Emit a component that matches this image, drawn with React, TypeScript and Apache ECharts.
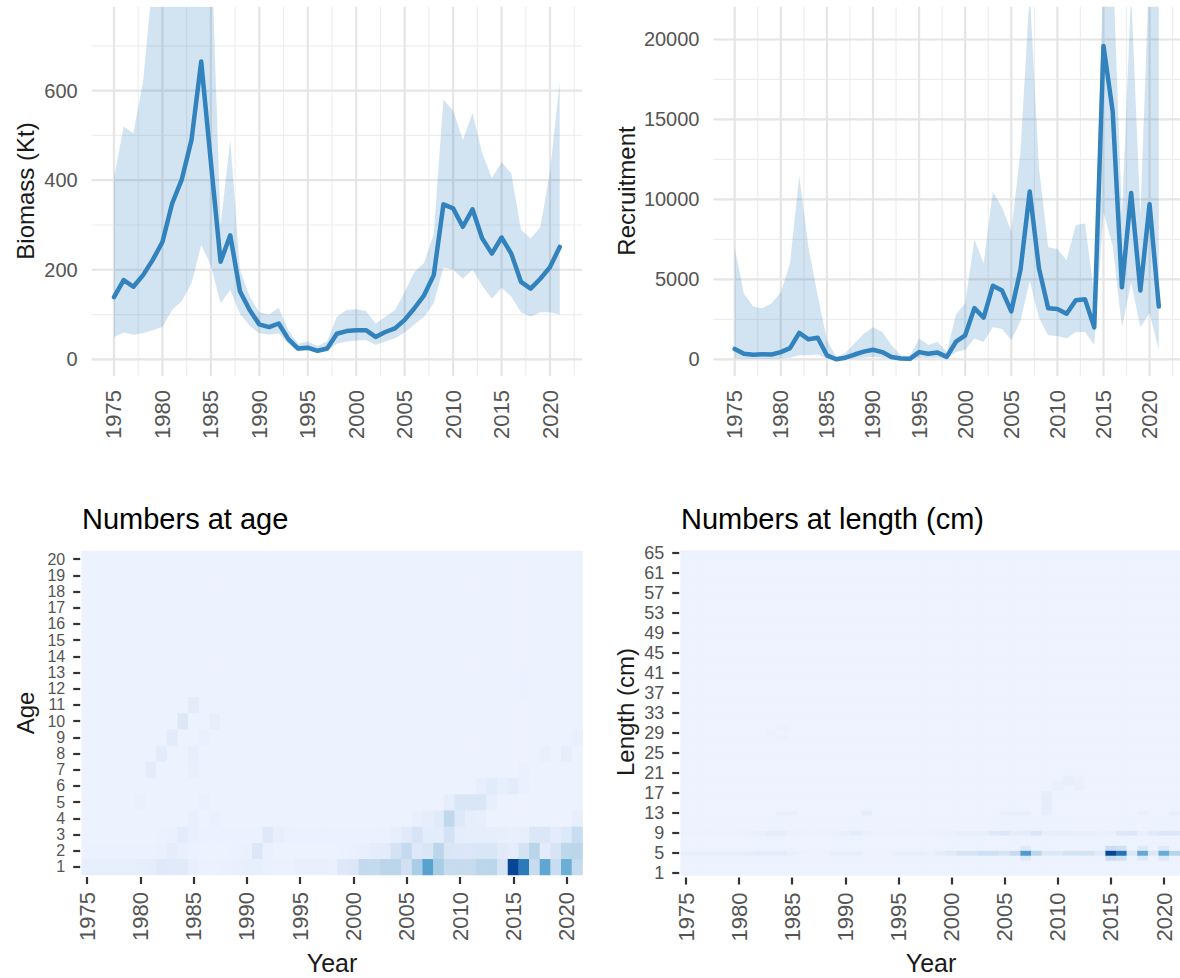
import React, { useEffect, useRef } from 'react';
import * as echarts from 'echarts';

// ---------- data ----------
const years = [1975, 1976, 1977, 1978, 1979, 1980, 1981, 1982, 1983, 1984, 1985, 1986, 1987, 1988, 1989, 1990, 1991, 1992, 1993, 1994, 1995, 1996, 1997, 1998, 1999, 2000, 2001, 2002, 2003, 2004, 2005, 2006, 2007, 2008, 2009, 2010, 2011, 2012, 2013, 2014, 2015, 2016, 2017, 2018, 2019, 2020, 2021];
const yearTickLabels = [1975, 1980, 1985, 1990, 1995, 2000, 2005, 2010, 2015, 2020];
const yearMinorGrid = [1977.5, 1982.5, 1987.5, 1992.5, 1997.5, 2002.5, 2007.5, 2012.5, 2017.5, 2022.5];
const biomassTicks = [0, 200, 400, 600];
const biomassMinor = [100, 300, 500, 700];
const recruitTicks = [0, 5000, 10000, 15000, 20000];
const recruitMinor = [2500, 7500, 12500, 17500];

const biomass = [139, 177, 162, 188, 222, 262, 348, 402, 490, 665, 440, 218, 277, 152, 110, 78, 72, 80, 45, 24, 26, 19, 24, 57, 63, 65, 65, 50, 61, 69, 88, 114, 143, 188, 346, 337, 296, 335, 270, 236, 272, 236, 173, 158, 180, 206, 251];
const biomassLow = [50, 60, 55, 58, 65, 72, 110, 130, 170, 255, 210, 125, 155, 102, 75, 58, 55, 58, 35, 18, 20, 14, 18, 35, 40, 42, 43, 32, 40, 47, 60, 78, 95, 125, 205, 200, 180, 200, 165, 135, 160, 140, 105, 95, 105, 105, 100];
const biomassHigh = [405, 520, 505, 620, 850, 950, 950, 950, 950, 950, 950, 300, 490, 200, 140, 105, 100, 115, 65, 35, 40, 30, 40, 95, 110, 112, 108, 80, 95, 110, 150, 195, 215, 280, 580, 555, 490, 550, 460, 405, 440, 415, 290, 270, 295, 420, 620];

const recruitment = [650, 350, 280, 320, 300, 450, 700, 1650, 1250, 1350, 250, 0, 100, 300, 480, 600, 450, 150, 50, 30, 450, 350, 420, 150, 1100, 1500, 3200, 2600, 4600, 4300, 3000, 5600, 10500, 5700, 3200, 3150, 2850, 3700, 3750, 2000, 19600, 15500, 4500, 10400, 4300, 9700, 3300];
const recruitLow = [50, 30, 20, 30, 20, 50, 100, 250, 250, 300, 30, 0, 10, 50, 100, 150, 100, 20, 5, 5, 100, 80, 100, 30, 450, 600, 1300, 1100, 2000, 1900, 1200, 2400, 4900, 2600, 1500, 1450, 1300, 1700, 1700, 900, 9200, 7100, 2000, 4800, 2000, 2900, 600];
const recruitHigh = [7000, 4100, 3300, 3200, 3500, 4200, 6000, 11500, 7000, 4000, 1200, 150, 400, 1000, 1600, 2000, 1700, 900, 250, 200, 1300, 900, 1100, 450, 2800, 3500, 7500, 6000, 10500, 9500, 8000, 13000, 23000, 12000, 7000, 6900, 6200, 8400, 8500, 4000, 25000, 25000, 9000, 23000, 9000, 25000, 25000];

// Numbers at age (relative units)
const ages = [1, 2, 3, 4, 5, 6, 7, 8, 9, 10, 11, 12, 13, 14, 15, 16, 17, 18, 19, 20];
const naAgeBackground = 2;
const naAge1 = [6, 6, 6, 6, 6, 7, 8, 13, 12, 12, 5, 3, 3, 4, 5, 6, 6, 4, 3, 3, 5, 5, 5, 4, 14, 16, 35, 34, 42, 42, 24, 57, 112, 58, 32, 32, 32, 42, 42, 20, 196, 153, 31, 107, 30, 98, 33];
const naAge2 = [3, 3, 3, 3, 3, 3, 3, 4, 8, 5, 3, 2, 2, 2, 3, 4, 16, 4, 2, 2, 2, 2, 2, 2, 3, 4, 5, 8, 10, 22, 34, 14, 18, 42, 18, 16, 16, 18, 18, 12, 8, 22, 44, 9, 20, 40, 42];
const naAge3 = [2, 2, 2, 2, 2, 2, 2, 3, 4, 10, 5, 3, 3, 3, 3, 3, 3, 14, 6, 3, 3, 3, 3, 3, 3, 3, 3, 3, 3, 6, 12, 20, 10, 10, 22, 8, 7, 7, 7, 6, 5, 6, 16, 16, 9, 14, 30];
// [year, age, value] for older ages
const naAgeCells = [
  [1985, 4, 5], [1987, 4, 4], [2006, 4, 5], [2007, 4, 7], [2008, 4, 12], [2009, 4, 38], [2010, 4, 14], [2011, 4, 7], [2012, 4, 6], [2021, 4, 6],
  [1980, 5, 4], [1986, 5, 4], [2009, 5, 7], [2010, 5, 18], [2011, 5, 18], [2012, 5, 18], [2013, 5, 6],
  [2012, 6, 6], [2013, 6, 11], [2014, 6, 6], [2015, 6, 10], [2016, 6, 4],
  [1981, 7, 9], [1985, 7, 5], [2016, 7, 4],
  [1982, 8, 10], [1985, 8, 6], [2018, 8, 5], [2020, 8, 7],
  [1983, 9, 11], [1986, 9, 4], [2021, 9, 5],
  [1984, 10, 15], [1987, 10, 6],
  [1985, 11, 9],
  [2016, 12, 3], [2016, 13, 3],
];

// Numbers at length (relative units)
const lengths = [1, 2, 3, 4, 5, 6, 7, 8, 9, 10, 11, 12, 13, 14, 15, 16, 17, 18, 19, 20, 21, 22, 23, 24, 25, 26, 27, 28, 29, 30, 31, 32, 33, 34, 35, 36, 37, 38, 39, 40, 41, 42, 43, 44, 45, 46, 47, 48, 49, 50, 51, 52, 53, 54, 55, 56, 57, 58, 59, 60, 61, 62, 63, 64, 65];
const nlBackground = 2;
const nlLen5 = [6, 6, 6, 6, 6, 6, 7, 10, 10, 10, 5, 3, 3, 3, 6, 6, 6, 3, 3, 3, 6, 6, 6, 4, 10, 12, 20, 20, 26, 26, 20, 32, 120, 42, 15, 15, 22, 22, 22, 12, 196, 160, 17, 105, 16, 100, 45];
const nlLen9 = [3, 3, 3, 3, 3, 3, 4, 5, 8, 8, 4, 3, 3, 3, 4, 6, 10, 5, 3, 3, 3, 3, 3, 3, 4, 4, 6, 6, 6, 14, 16, 8, 10, 18, 7, 7, 7, 6, 6, 4, 5, 14, 16, 6, 12, 16, 16];
const nlCells = [
  [2007, 4, 14], [2007, 6, 14], [2015, 4, 30], [2015, 6, 30], [2016, 4, 25], [2016, 6, 25], [2018, 4, 14], [2018, 6, 14], [2020, 4, 14], [2020, 6, 14],
  [1984, 13, 6], [1985, 13, 5], [1992, 13, 8], [2005, 13, 5], [2006, 13, 6], [2007, 13, 6], [2018, 13, 5], [2021, 13, 6],
  [2009, 13, 6], [2009, 14, 8], [2009, 15, 8], [2009, 16, 8], [2009, 17, 7],
  [2010, 18, 5], [2010, 19, 5], [2011, 19, 6], [2011, 20, 6], [2012, 18, 5], [2012, 19, 5], [2012, 20, 4],
  [1983, 29, 4], [1984, 28, 4], [1984, 30, 4],
];

const blues = ['#EFF3FF', '#C6DBEF', '#9ECAE1', '#6BAED6', '#4292C6', '#2171B5', '#084594'];
const FONT = '"Liberation Sans", Arial, Helvetica, sans-serif';
const LABEL = '#555555';
const TITLE = '#1a1a1a';

function buildAgeCells() {
  const m = years.map((_, xi) => ages.map((a) => {
    if (a === 1) return naAge1[xi];
    if (a === 2) return naAge2[xi];
    if (a === 3) return naAge3[xi];
    return naAgeBackground;
  }));
  naAgeCells.forEach(([y, a, v]) => { m[years.indexOf(y)][a - 1] = v; });
  const out: number[][] = [];
  m.forEach((col, xi) => col.forEach((v, yi) => out.push([xi, yi, v])));
  return out;
}

function buildLenCells() {
  const m = years.map((_, xi) => lengths.map((l) => {
    if (l === 5) return nlLen5[xi];
    if (l === 9) return nlLen9[xi];
    return nlBackground;
  }));
  nlCells.forEach(([y, l, v]) => { m[years.indexOf(y)][l - 1] = v; });
  const out: number[][] = [];
  m.forEach((col, xi) => col.forEach((v, yi) => out.push([xi, yi, v])));
  return out;
}

function gridData(xMajor: number[], xMinor: number[], yMajor: number[], yMinor: number[]) {
  const d: number[][] = [];
  xMinor.forEach((v) => d.push([v, 0, 0, 0]));
  yMinor.forEach((v) => d.push([1975, v, 1, 0]));
  xMajor.forEach((v) => d.push([v, 0, 0, 1]));
  yMajor.forEach((v) => d.push([1975, v, 1, 1]));
  return d;
}

function gridSeries(idx: number, data: number[][]) {
  return {
    type: 'custom',
    xAxisIndex: idx,
    yAxisIndex: idx,
    z: 0,
    silent: true,
    encode: { x: 0, y: 1 },
    data,
    renderItem: (params: any, api: any) => {
      const cs = params.coordSys;
      const dir = api.value(2);
      const major = api.value(3);
      const p = api.coord([api.value(0), api.value(1)]);
      const style = { stroke: major ? '#E5E5E5' : '#EEEEEE', lineWidth: major ? 2.2 : 1.2 };
      if (dir === 0) {
        return { type: 'line', shape: { x1: p[0], y1: cs.y, x2: p[0], y2: cs.y + cs.height }, style };
      }
      return { type: 'line', shape: { x1: cs.x, y1: p[1], x2: cs.x + cs.width, y2: p[1] }, style };
    },
  };
}

function ribbonSeries(idx: number, low: number[], high: number[]) {
  return {
    type: 'custom',
    xAxisIndex: idx,
    yAxisIndex: idx,
    z: 1,
    silent: true,
    clip: true,
    encode: { x: 0, y: [1, 2] },
    data: years.map((y, i) => [y, low[i], high[i]]),
    renderItem: (params: any, api: any) => {
      if (params.dataIndex !== 0) return null;
      const cs = params.coordSys;
      const top = years.map((y, i) => api.coord([y, high[i]]));
      const bottom = years.map((y, i) => api.coord([y, low[i]])).reverse();
      return {
        type: 'polygon',
        shape: { points: top.concat(bottom) },
        style: { fill: 'rgba(49,130,189,0.22)' },
        clipPath: { type: 'rect', shape: { x: cs.x, y: cs.y, width: cs.width, height: cs.height } },
      };
    },
  };
}

function mainLine(idx: number, vals: number[]) {
  return {
    type: 'line', xAxisIndex: idx, yAxisIndex: idx, z: 3,
    data: years.map((y, i) => [y, vals[i]]), showSymbol: false, symbol: 'none', silent: true,
    lineStyle: { width: 4.5, color: '#3182BD', join: 'round', cap: 'round' },
  };
}

function valueXAxis(gridIndex: number) {
  return {
    type: 'value', gridIndex, min: 1972.7, max: 2023.3,
    axisLine: { show: false }, axisTick: { show: false }, splitLine: { show: false },
    axisLabel: { customValues: yearTickLabels, rotate: 90, margin: 14, fontSize: 22, color: LABEL, fontFamily: FONT, formatter: (v: number) => String(v) },
  };
}

function catXAxis(gridIndex: number) {
  const every5 = (_i: number, v: string) => Number(v) % 5 === 0;
  return {
    type: 'category', gridIndex, data: years.map(String), offset: 2,
    axisLine: { show: false },
    axisTick: { show: true, interval: every5, alignWithLabel: true, length: 7, lineStyle: { color: '#333333', width: 2.2 } },
    axisLabel: { interval: every5, rotate: 90, margin: 15, fontSize: 22, color: LABEL, fontFamily: FONT },
    splitLine: { show: false },
  };
}

function textEl(text: string, x: number, y: number, size: number, opts: any = {}) {
  const align = opts.align || 'center';
  return {
    type: 'text', x, y, rotation: opts.rotate ? Math.PI / 2 : 0, silent: true,
    style: {
      text, fontSize: size, fontFamily: FONT, fill: opts.fill || TITLE,
      textAlign: align, textVerticalAlign: 'middle', align, verticalAlign: 'middle',
    },
  };
}

function buildOption() {
  const ageSeriesIndex = 6;
  const lenSeriesIndex = 7;
  return {
    animation: false,
    backgroundColor: '#ffffff',
    textStyle: { fontFamily: FONT },
    grid: [
      { left: 91.7, top: 6.7, width: 490.3, height: 369.4 },
      { left: 713.5, top: 6.7, width: 469.3, height: 369.4 },
      { left: 81.7, top: 551, width: 500.9, height: 324 },
      { left: 680.7, top: 550.5, width: 500, height: 325 },
    ],
    xAxis: [valueXAxis(0), valueXAxis(1), catXAxis(2), catXAxis(3)],
    yAxis: [
      {
        type: 'value', gridIndex: 0, min: -37.5, max: 787.5,
        axisLine: { show: false }, axisTick: { show: false }, splitLine: { show: false },
        axisLabel: { customValues: biomassTicks, margin: 14, fontSize: 20, color: LABEL, fontFamily: FONT, formatter: (v: number) => String(v) },
      },
      {
        type: 'value', gridIndex: 1, min: -1050, max: 22050,
        axisLine: { show: false }, axisTick: { show: false }, splitLine: { show: false },
        axisLabel: { customValues: recruitTicks, margin: 14, fontSize: 20, color: LABEL, fontFamily: FONT, formatter: (v: number) => String(v) },
      },
      {
        type: 'category', gridIndex: 2, data: ages.map(String), offset: 1.5,
        axisLine: { show: false },
        axisTick: { show: true, interval: 0, alignWithLabel: true, length: 7, lineStyle: { color: '#333333', width: 2.2 } },
        axisLabel: { interval: 0, margin: 15, fontSize: 16, lineHeight: 16, color: LABEL, fontFamily: FONT },
        splitLine: { show: false },
      },
      {
        type: 'category', gridIndex: 3, data: lengths.map(String), offset: 1.5,
        axisLine: { show: false },
        axisTick: { show: true, interval: (i: number) => i % 4 === 0, alignWithLabel: true, length: 7, lineStyle: { color: '#333333', width: 2.2 } },
        axisLabel: { interval: (i: number) => i % 4 === 0, margin: 15, fontSize: 18, color: LABEL, fontFamily: FONT },
        splitLine: { show: false },
      },
    ],
    visualMap: [
      { type: 'continuous', show: false, seriesIndex: ageSeriesIndex, min: 0, max: 196, inRange: { color: blues } },
      { type: 'continuous', show: false, seriesIndex: lenSeriesIndex, min: 0, max: 196, inRange: { color: blues } },
    ],
    series: [
      gridSeries(0, gridData(yearTickLabels, yearMinorGrid, biomassTicks, biomassMinor)),
      gridSeries(1, gridData(yearTickLabels, yearMinorGrid, recruitTicks, recruitMinor)),
      ribbonSeries(0, biomassLow, biomassHigh),
      mainLine(0, biomass),
      ribbonSeries(1, recruitLow, recruitHigh),
      mainLine(1, recruitment),
      {
        type: 'heatmap', xAxisIndex: 2, yAxisIndex: 2, data: buildAgeCells(), progressive: 0, silent: true,
        itemStyle: { borderWidth: 0 }, emphasis: { disabled: true },
      },
      {
        type: 'heatmap', xAxisIndex: 3, yAxisIndex: 3, data: buildLenCells(), progressive: 0, silent: true,
        itemStyle: { borderWidth: 0 }, emphasis: { disabled: true },
      },
    ],
    graphic: [
      textEl('Biomass (Kt)', 25, 191, 24, { rotate: true }),
      textEl('Recruitment', 626, 191, 24, { rotate: true }),
      textEl('Numbers at age', 82, 519, 29, { align: 'left', fill: '#000000' }),
      textEl('Numbers at length (cm)', 681, 519, 29, { align: 'left', fill: '#000000' }),
      textEl('Age', 25, 713, 24, { rotate: true }),
      textEl('Length (cm)', 625, 712, 24, { rotate: true }),
      textEl('Year', 332, 963, 25),
      textEl('Year', 931, 963, 25),
    ],
  };
}

export default function App() {
  const ref = useRef<HTMLDivElement>(null);
  useEffect(() => {
    if (!ref.current) return;
    const chart = echarts.init(ref.current, null, { renderer: 'svg' });
    chart.setOption(buildOption() as any);
    return () => chart.dispose();
  }, []);
  return (
    <div
      ref={ref}
      style={{ position: 'fixed', left: 0, top: 0, width: 1180, height: 978, background: '#ffffff' }}
    />
  );
}
